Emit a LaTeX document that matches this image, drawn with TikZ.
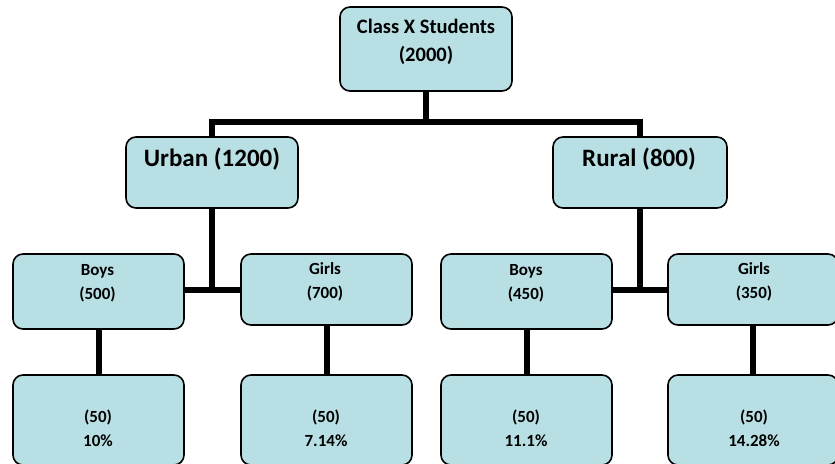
\documentclass[tikz,border=0pt]{standalone}
\usepackage{fontspec}
\setmainfont{Carlito}
\definecolor{boxfill}{RGB}{184,223,227}
\tikzset{
  box/.style={draw=black, line width=1.6pt, fill=boxfill, rounded corners=10pt, inner sep=0pt},
  conn/.style={draw=black, line width=6pt},
  big/.style={anchor=base, font=\bfseries\fontsize{25}{29}\selectfont, inner sep=0pt},
  mid/.style={anchor=base, font=\bfseries\fontsize{20.5}{24}\selectfont, inner sep=0pt},
  small/.style={anchor=base, font=\bfseries\fontsize{17}{20}\selectfont, inner sep=0pt}
}
\begin{document}
\begin{tikzpicture}[x=1pt,y=-1pt]
\useasboundingbox (0,0) rectangle (835,463);
% boxes
\node[box, minimum width=172pt, minimum height=84pt] (top) at (426,49) {};
\node[box, minimum width=172pt, minimum height=71pt] (urban) at (212,172.5) {};
\node[box, minimum width=174pt, minimum height=71pt] (rural) at (640,172.5) {};
\node[box, minimum width=171pt, minimum height=75pt] (boysU) at (98.5,291.5) {};
\node[box, minimum width=171pt, minimum height=71pt] (girlsU) at (326.5,289.5) {};
\node[box, minimum width=171pt, minimum height=75pt] (boysR) at (526.5,291.5) {};
\node[box, minimum width=170pt, minimum height=71pt] (girlsR) at (753,289.5) {};
\node[box, minimum width=171pt, minimum height=90pt] (bU) at (98.5,420) {};
\node[box, minimum width=171pt, minimum height=90pt] (gU) at (326.5,420) {};
\node[box, minimum width=171pt, minimum height=90pt] (bR) at (526.5,420) {};
\node[box, minimum width=170pt, minimum height=90pt] (gR) at (753,420) {};
% texts
\node[mid] (t1) at (426,33.5) {Class X Students};
\node[mid] (t2) at (426,61) {(2000)};
\node[big] (t3) at (212,166.5) {Urban (1200)};
\node[big] (t4) at (639,166.5) {Rural (800)};
\node[small] (t5) at (97.5,275.5) {Boys};
\node[small] (t6) at (97.5,299) {(500)};
\node[small] (t7) at (325,274.5) {Girls};
\node[small] (t8) at (325,298) {(700)};
\node[small] (t9) at (526,275.5) {Boys};
\node[small] (t10) at (526,299) {(450)};
\node[small] (t11) at (754,274.5) {Girls};
\node[small] (t12) at (754,298) {(350)};
\node[small] (t13) at (98,422.5) {(50)};
\node[small] (t14) at (98,446) {10\%};
\node[small] (t15) at (326,422.5) {(50)};
\node[small] (t16) at (326,446) {7.14\%};
\node[small] (t17) at (526,422.5) {(50)};
\node[small] (t18) at (526,446) {11.1\%};
\node[small] (t19) at (754,422.5) {(50)};
\node[small] (t20) at (754,446) {14.28\%};
% connectors
\coordinate (bar) at (426,122);
\coordinate (uj) at (212,290);
\coordinate (rj) at (640,290);
\draw[conn] (top.south) -- (bar);
\draw[conn] (urban.north) |- (bar) -| (rural.north);
\draw[conn] (urban.south) -- ([yshift=3pt]uj);
\draw[conn] (boysU.east |- uj) -- (girlsU.west |- uj);
\draw[conn] (rural.south) -- ([yshift=3pt]rj);
\draw[conn] (boysR.east |- rj) -- (girlsR.west |- rj);
\draw[conn] (boysU.south) -- (bU.north);
\draw[conn] (girlsU.south) -- (gU.north);
\draw[conn] (boysR.south) -- (bR.north);
\draw[conn] (girlsR.south) -- (gR.north);
\end{tikzpicture}
\end{document}
